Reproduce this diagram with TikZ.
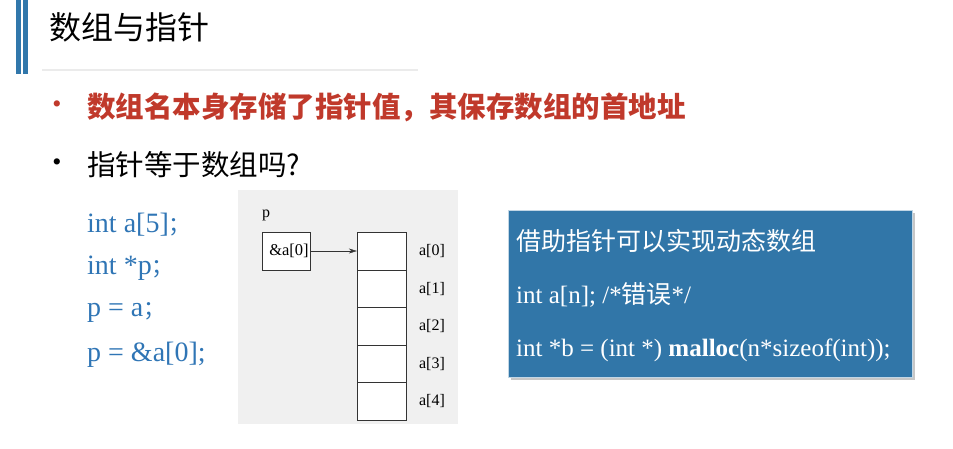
\documentclass[tikz,border=0pt]{standalone}
\usepackage{fontspec}
\setmainfont{Liberation Serif}
\newfontfamily\cjk{Noto Sans CJK SC}
\usetikzlibrary{arrows.meta}
\definecolor{barblue}{RGB}{49,119,171}
\definecolor{codeblue}{RGB}{47,117,181}
\definecolor{boxblue}{RGB}{49,118,168}
\definecolor{titlered}{RGB}{192,57,43}
\definecolor{panelgray}{RGB}{240,240,240}
\tikzset{
  cell/.style={draw=black!80, fill=white, minimum width=49pt, minimum height=37.6pt, inner sep=0pt},
  idx/.style={font=\fontsize{16}{18}\selectfont, inner sep=0pt},
  code/.style={anchor=west, inner sep=0pt, text=codeblue, font=\fontsize{28}{30}\selectfont},
  boxtext/.style={anchor=west, inner sep=0pt, text=white},
}
\begin{document}
\begin{tikzpicture}[x=1pt,y=-1pt]
\useasboundingbox (0,0) rectangle (953,449);
% header
\fill[barblue] (16,0) rectangle (21,74);
\fill[barblue] (22.5,0) rectangle (27.5,74);
\node[anchor=west, inner sep=0pt, font=\cjk\fontsize{32}{36}\selectfont] (title) at (49,27) {数组与指针};
\draw[black!8, line width=1.2pt] (42,70) -- (418,70);
% bullets
\node[text=titlered, font=\fontsize{26}{28}\selectfont, inner sep=0pt] (dot1) at (57,107) {\textbullet};
\node[anchor=west, inner sep=0pt, text=titlered, font=\cjk\bfseries\fontsize{28.5}{32}\selectfont] (line1) at (87,107) {数组名本身存储了指针值，其保存数组的首地址};
\node[font=\fontsize{26}{28}\selectfont, inner sep=0pt] (dot2) at (57,165) {\textbullet};
\node[anchor=west, inner sep=0pt, font=\cjk\fontsize{28.5}{32}\selectfont] (line2) at (87,165) {指针等于数组吗?};
% code
\node[code] (c1) at (87,225) {int a[5]{\cjk\fontsize{22}{26}\selectfont ；}};
\node[code] (c2) at (87,268) {int *p{\cjk\fontsize{22}{26}\selectfont ；}};
\node[code] (c3) at (87,312) {p = a{\cjk\fontsize{22}{26}\selectfont ；}};
\node[code] (c4) at (87,355) {p = \&a[0];};
% memory picture
\fill[panelgray] (238,190) rectangle (458,424);
\node[idx] (plabel) at (266,215) {p};
\node[cell, minimum width=48pt, minimum height=38pt, font=\fontsize{16.5}{18}\selectfont] (ptr) at (286,251) {\hspace{6pt}\&a[0]};
\foreach \i in {0,...,4} {
  \node[cell] (a\i) at (381.5,{251+37.6*\i}) {};
  \node[idx] (l\i) at (432,{251+37.6*\i}) {a[\i]};
}
\draw[-{Stealth[length=8pt,width=5pt]}, black!80] (ptr) -- (a0);
% blue box
\fill[black!22] (511,213) rectangle (915,380);
\fill[boxblue] (508,210) rectangle (912,377);
\draw[white!70!boxblue] (508,210) rectangle (912,377);
\node[boxtext, font=\cjk\fontsize{25}{28}\selectfont] (b1) at (516,241) {借助指针可以实现动态数组};
\node[boxtext, font=\fontsize{25}{28}\selectfont] (b2) at (516,295) {int a[n]; /*{\cjk 错误}*/};
\node[boxtext, font=\fontsize{25}{28}\selectfont] (b3) at (516,350) {int *b = (int *) \textbf{malloc}(n*sizeof(int));};
\end{tikzpicture}
\end{document}
